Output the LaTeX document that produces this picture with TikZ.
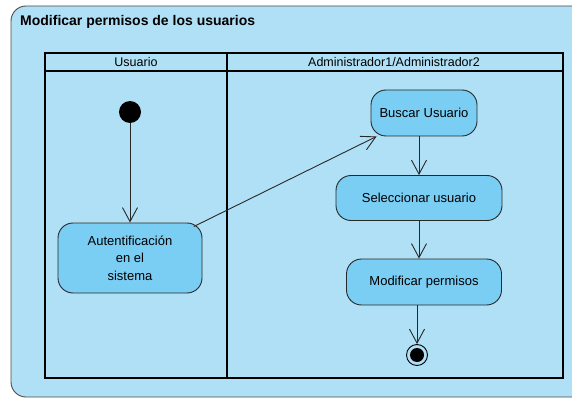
\documentclass[tikz,border=0pt]{standalone}
\usepackage{fontspec}
\setmainfont{Liberation Sans}
\usetikzlibrary{arrows.meta}
\definecolor{bgblue}{RGB}{176,224,246}
\definecolor{nodeblue}{RGB}{122,205,243}
\definecolor{edgegray}{RGB}{40,40,40}
\begin{document}
\begin{tikzpicture}[x=1pt,y=-1pt,
  action/.style={draw=edgegray,line width=0.9pt,fill=nodeblue,rounded corners=15pt,
     align=center,font=\fontsize{13}{17.5}\selectfont,inner sep=0pt},
  flow/.style={draw=edgegray,line width=0.9pt,-{Straight Barb[length=14pt,width=15pt,line width=0.9pt]}},
  lane/.style={draw=black,line width=1.8pt},
  lbl/.style={font=\fontsize{12.5}{15}\selectfont,inner sep=0pt}]
\useasboundingbox (0,0) rectangle (572,398);
\fill[white] (0,0) rectangle (572,398);
% outer frame
\draw[draw=black!70,line width=0.9pt,fill=bgblue,rounded corners=15pt] (11,6) rectangle (600,397);
\node[anchor=base west,font=\bfseries\fontsize{14}{16}\selectfont,inner sep=0pt] (title) at (20,26) {Modificar permisos de los usuarios};
% swimlanes
\draw[lane] (45,53) rectangle (563,378);
\draw[lane] (45,71) -- (563,71);
\draw[lane] (227,53) -- (227,378);
\node[lbl] (l1) at (136,62) {Usuario};
\node[lbl] (l2) at (394,62) {Administrador1/Administrador2};
% nodes
\node[circle,fill=black,minimum size=22pt,inner sep=0pt] (init) at (130,112) {};
\node[action,minimum width=144pt,minimum height=70pt] (auth) at (130,258) {Autentificación\\en el\\sistema};
\node[action,minimum width=106pt,minimum height=46pt] (busc) at (424,113) {Buscar Usuario};
\node[action,minimum width=166pt,minimum height=45pt] (sel) at (419,198) {Seleccionar usuario};
\node[action,minimum width=155pt,minimum height=46pt] (mod) at (424,282) {Modificar permisos};
\node[circle,draw=black,line width=0.9pt,fill=bgblue,minimum size=21pt,inner sep=0pt] (fin) at (417,355) {};
\fill[black] (fin.center) circle (7pt);
% flows
\draw[flow] (init) -- (auth);
\draw[flow,shorten <=-9pt] (auth) -- (busc);
\draw[flow] (sel.north |- busc.south) -- (sel.north);
\draw[flow] (sel.south) -- (sel.south |- mod.north);
\draw[flow] (fin.north |- mod.south) -- (fin.north);
\end{tikzpicture}
\end{document}
